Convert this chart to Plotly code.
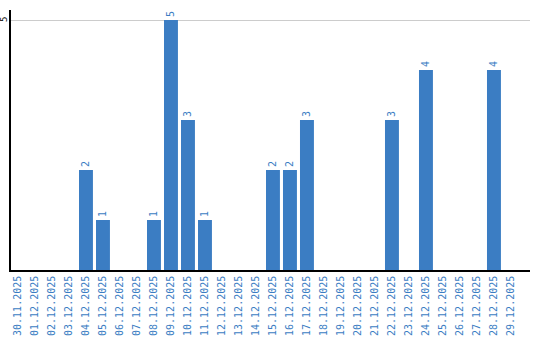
import plotly.graph_objects as go

dates = ["30.11.2025", "01.12.2025", "02.12.2025", "03.12.2025", "04.12.2025",
         "05.12.2025", "06.12.2025", "07.12.2025", "08.12.2025", "09.12.2025",
         "10.12.2025", "11.12.2025", "12.12.2025", "13.12.2025", "14.12.2025",
         "15.12.2025", "16.12.2025", "17.12.2025", "18.12.2025", "19.12.2025",
         "20.12.2025", "21.12.2025", "22.12.2025", "23.12.2025", "24.12.2025",
         "25.12.2025", "26.12.2025", "27.12.2025", "28.12.2025", "29.12.2025"]
counts = [0, 0, 0, 0, 2, 1, 0, 0, 1, 5, 3, 1, 0, 0, 0,
          2, 2, 3, 0, 0, 0, 0, 3, 0, 4, 0, 0, 0, 4, 0]
labels = [str(v) if v else "" for v in counts]
y_ticks = [5]

BLUE = "#3b7dc3"

fig = go.Figure(go.Bar(
    x=dates, y=counts, marker_color=BLUE, marker_line_width=0,
    text=labels, textposition="outside", textangle=-90,
    textfont=dict(color=BLUE, size=10, family="DejaVu Sans Mono"),
    cliponaxis=False,
))
fig.update_layout(
    width=540, height=340,
    margin=dict(l=11, r=10, t=10, b=70),
    paper_bgcolor="white", plot_bgcolor="white",
    bargap=0.18, showlegend=False,
    font=dict(family="DejaVu Sans Mono", size=10),
)
fig.update_xaxes(
    type="category", range=[-0.41, 30.12], automargin=False,
    tickangle=-90, tickfont=dict(color=BLUE, size=10, family="DejaVu Sans Mono"),
    showline=True, linecolor="black", linewidth=1.5,
    showgrid=False, ticks="", ticklen=0,
)
fig.update_yaxes(
    range=[0, 5.2], tickvals=y_ticks, showticklabels=False, automargin=False,
    showline=True, linecolor="black", linewidth=1.5,
    showgrid=True, gridcolor="#cccccc", gridwidth=1,
    zeroline=False, ticks="",
)
for t in y_ticks:
    fig.add_annotation(
        x=0, xref="paper", y=t, yref="y", text=str(t), showarrow=False,
        textangle=-90, xanchor="right", yanchor="middle", xshift=-1,
        font=dict(color="black", size=9, family="DejaVu Sans Mono"),
        borderpad=0,
    )
fig.write_html("out.html")
